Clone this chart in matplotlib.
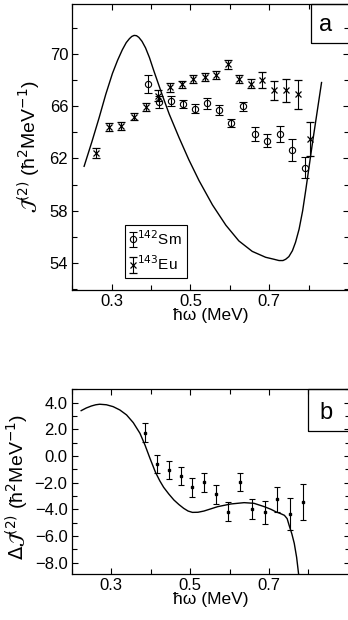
import matplotlib
matplotlib.use("Agg")
import matplotlib.pyplot as plt
from matplotlib.patches import Rectangle
from matplotlib.ticker import FuncFormatter

plt.rcParams['font.family'] = ['Liberation Sans', 'DejaVu Sans']
plt.rcParams['mathtext.fontset'] = 'dejavusans'

# panel a: J(2) data
sm_x = [0.391, 0.421, 0.451, 0.482, 0.512, 0.543, 0.573, 0.604, 0.634, 0.664, 0.695, 0.727, 0.758, 0.792]
sm_y = [67.7, 66.3, 66.4, 66.15, 65.8, 66.2, 65.7, 64.7, 66.0, 63.85, 63.35, 63.85, 62.65, 61.3]
sm_err = [0.68, 0.45, 0.4, 0.3, 0.35, 0.4, 0.35, 0.3, 0.35, 0.55, 0.5, 0.6, 0.86, 0.83]

eu_x = [0.261, 0.293, 0.324, 0.356, 0.387, 0.418, 0.448, 0.478, 0.507, 0.537, 0.566, 0.595,
        0.623, 0.653, 0.683, 0.711, 0.742, 0.774, 0.803]
eu_y = [62.4, 64.4, 64.5, 65.2, 65.9, 66.8, 67.45, 67.65, 68.05, 68.2, 68.4, 69.2,
        68.05, 67.7, 68.0, 67.2, 67.2, 66.9, 63.5]
eu_err = [0.38, 0.3, 0.3, 0.3, 0.3, 0.4, 0.35, 0.3, 0.3, 0.3, 0.3, 0.35,
          0.3, 0.35, 0.6, 0.7, 0.87, 1.1, 1.28]

calc_a_x = [0.230, 0.250, 0.268, 0.285, 0.302, 0.315, 0.327, 0.337, 0.345, 0.351, 0.357, 0.363,
            0.369, 0.377, 0.386, 0.396, 0.407, 0.418, 0.429, 0.446, 0.471, 0.496, 0.522,
            0.556, 0.590, 0.623, 0.657, 0.691, 0.712, 0.725, 0.735, 0.742, 0.750, 0.759,
            0.767, 0.776, 0.785, 0.793, 0.802, 0.810, 0.822, 0.833]
calc_a_y = [61.4, 63.3, 65.1, 66.9, 68.5, 69.5, 70.3, 70.85, 71.15, 71.32, 71.4, 71.38,
            71.25, 70.95, 70.45, 69.7, 68.7, 67.75, 66.8, 65.4, 63.6, 61.9, 60.3,
            58.45, 56.9, 55.7, 54.9, 54.45, 54.3, 54.2, 54.2, 54.3, 54.5, 54.95,
            55.6, 56.6, 58.0, 59.6, 61.5, 63.2, 65.6, 67.8]

# panel b: difference
d_x = [0.387, 0.415, 0.446, 0.478, 0.506, 0.536, 0.566, 0.596, 0.627, 0.657, 0.689, 0.720, 0.752, 0.785]
d_y = [1.75, -0.6, -1.05, -1.5, -2.35, -1.98, -2.88, -4.17, -1.93, -4.0, -4.23, -3.25, -4.35, -3.43]
d_err = [0.73, 0.71, 0.7, 0.7, 0.69, 0.7, 0.69, 0.71, 0.69, 0.76, 0.88, 0.94, 1.19, 1.35]

calc_b_x = [0.224, 0.237, 0.250, 0.261, 0.271, 0.288, 0.305, 0.322, 0.339, 0.356, 0.373, 0.386,
            0.398, 0.412, 0.423, 0.433, 0.446, 0.459, 0.472, 0.484, 0.495, 0.506, 0.520,
            0.535, 0.552, 0.570, 0.603, 0.637, 0.662, 0.688, 0.705, 0.717, 0.730, 0.739,
            0.746, 0.751, 0.758, 0.764, 0.770, 0.775, 0.779]
calc_b_y = [3.4, 3.6, 3.75, 3.84, 3.88, 3.84, 3.7, 3.45, 3.08, 2.5, 1.7, 0.8,
            -0.15, -1.2, -1.85, -2.35, -2.85, -3.3, -3.65, -3.93, -4.13, -4.23, -4.22,
            -4.13, -3.97, -3.8, -3.6, -3.5, -3.55, -3.8, -4.0, -4.18, -4.33, -4.45,
            -4.7, -5.2, -5.85, -6.55, -7.6, -8.85, -9.5]

x_major = [0.3, 0.5, 0.7]
x_minor = [0.2, 0.4, 0.6, 0.8]

W, H = 348.0, 620.0


def px_axes(l, r, t, b):
    return [l / W, 1 - b / H, (r - l) / W, (b - t) / H]


def style_axes(ax):
    ax.tick_params(which='both', direction='in', top=True, right=True,
                   width=0.8, labelsize=12, pad=3)
    ax.tick_params(which='major', length=4.3)
    ax.tick_params(which='minor', length=3.6)
    ax.set_xticks(x_major)
    ax.set_xticks(x_minor, minor=True)
    ax.set_xticklabels(['0.3', '0.5', '0.7'])
    for s in ax.spines.values():
        s.set_linewidth(0.9)


def corner_box(ax, x0, y0, txt, tx, ty):
    ax.add_patch(Rectangle((x0, y0), 0.3, 1.0 - y0, transform=ax.transAxes,
                           fill=False, lw=0.9, ec='black', clip_on=False))
    ax.text(tx, ty, txt, transform=ax.transAxes, ha='center', va='center', fontsize=17)


fig = plt.figure(figsize=(3.48, 6.2), dpi=100)

# ---- panel a
ax1 = fig.add_axes(px_axes(72.3, 349.5, 4, 290))
ax1.plot(calc_a_x, calc_a_y, color='black', lw=1.0)
h_sm = ax1.errorbar(sm_x, sm_y, yerr=sm_err, fmt='o', mfc='none', mec='black', ms=4.5,
                    mew=0.8, ecolor='black', elinewidth=0.8, capsize=3.0, capthick=0.8,
                    label='$^{142}$Sm')
h_eu = ax1.errorbar(eu_x, eu_y, yerr=eu_err, fmt='x', color='black', ms=4.5, mew=0.9,
                    ecolor='black', elinewidth=0.8, capsize=3.0, capthick=0.8,
                    label='$^{143}$Eu')
ax1.set_xlim(0.2, 0.904)
ax1.set_ylim(51.95, 73.8)
style_axes(ax1)
ax1.set_yticks([54, 58, 62, 66, 70])
ax1.set_yticks([52, 56, 60, 64, 68, 72], minor=True)
ax1.set_xlabel('ħω (MeV)', fontsize=12.5)
ax1.xaxis.set_label_coords(0.5, -0.063)
ax1.set_ylabel(r'$\mathcal{J}^{(2)}$ (ħ$^{2}$MeV$^{-1}$)', fontsize=14)
ax1.yaxis.set_label_coords(-0.106, 0.5)
leg = ax1.legend(handles=[h_sm, h_eu], loc='lower left', bbox_to_anchor=(0.19, 0.042),
                 fontsize=11, handlelength=0.45, handletextpad=0.05, borderpad=0.3,
                 labelspacing=0.45, fancybox=False, edgecolor='black', framealpha=1,
                 borderaxespad=0)
leg.get_frame().set_linewidth(0.8)
corner_box(ax1, 0.861, 0.865, 'a', 0.912, 0.927)

# ---- panel b
ax2 = fig.add_axes(px_axes(71.7, 349.5, 389.3, 574))
ax2.plot(calc_b_x, calc_b_y, color='black', lw=1.0)
ax2.errorbar(d_x, d_y, yerr=d_err, fmt='s', color='black', ms=1.8, ecolor='black',
             elinewidth=0.8, capsize=2.0, capthick=0.8)
ax2.set_xlim(0.2, 0.904)
ax2.set_ylim(-8.85, 5.0)
style_axes(ax2)
ax2.set_yticks([4, 2, 0, -2, -4, -6, -8])
ax2.set_yticks([5, 3, 1, -1, -3, -5, -7], minor=True)
ax2.yaxis.set_major_formatter(FuncFormatter(lambda v, p: ('%.1f' % v).replace('-', '\u2212')))
ax2.set_xlabel('ħω (MeV)', fontsize=12.5)
ax2.xaxis.set_label_coords(0.5, -0.097)
ax2.set_ylabel(r'$\Delta\mathcal{J}^{(2)}$ (ħ$^{2}$MeV$^{-1}$)', fontsize=14)
ax2.yaxis.set_label_coords(-0.145, 0.47)
corner_box(ax2, 0.852, 0.776, 'b', 0.917, 0.872)

fig.savefig('out.png', dpi=100)
